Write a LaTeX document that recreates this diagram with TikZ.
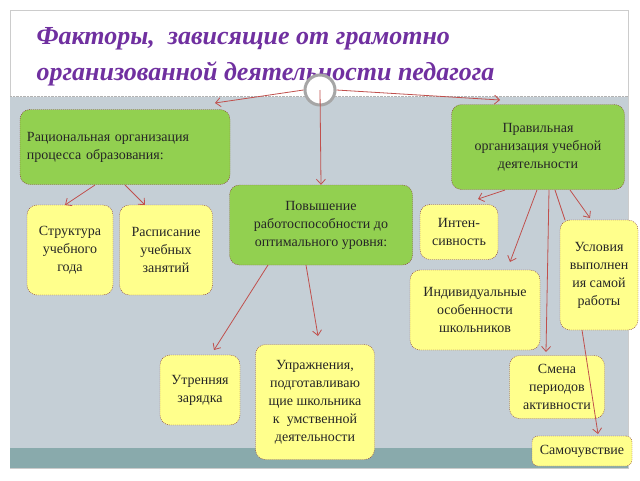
\documentclass[tikz,border=0pt]{standalone}
\usepackage{fontspec}
\setmainfont{Liberation Serif}
\usetikzlibrary{arrows.meta}
\definecolor{bg}{RGB}{197,207,214}
\definecolor{band}{RGB}{137,170,172}
\definecolor{gfill}{RGB}{146,208,80}
\definecolor{yfill}{RGB}{255,255,140}
\definecolor{edge}{RGB}{192,80,77}
\definecolor{ttl}{RGB}{112,48,160}
\begin{document}
\begin{tikzpicture}[x=1pt,y=-1pt,
  box/.style={draw=edge!70!black,dashed,dash pattern=on 1pt off 1pt,rounded corners=10pt,align=center,inner sep=1pt,font=\fontsize{14}{18}\selectfont,text=black!85},
  gbox/.style={box,fill=gfill},
  ybox/.style={box,fill=yfill},
  arr/.style={draw=edge,-{Straight Barb[length=5pt,width=9pt]},line width=0.8pt}]
\useasboundingbox (0,0) rectangle (640,480);
\fill[white] (0,0) rectangle (640,480);
\draw[gray!40] (10,10) rectangle (628,468);
\fill[bg] (10,97) rectangle (628,448);
\fill[band] (10,448) rectangle (628,468);
\draw[gray!60,densely dotted] (10,96) -- (628,96);
\node[anchor=west,text=ttl,font=\fontsize{26}{36}\selectfont\bfseries\itshape,align=left] (title) at (33,57) {Факторы,\ \ зависящие от грамотно\\организованной деятельности педагога};
\node[circle,draw=gray!70,line width=3pt,fill=white,minimum size=30pt] (c) at (320,90) {};
% nodes
\node[gbox,minimum width=210pt,minimum height=75pt,align=left,text width=196pt] (rat) at (125,147) {Рациональная организация\\процесса образования:};
\node[gbox,minimum width=173pt,minimum height=85pt] (prav) at (538,147) {Правильная\\организация учебной\\деятельности};
\node[gbox,minimum width=183pt,minimum height=80pt] (pov) at (321,225) {Повышение\\работоспособности до\\оптимального уровня:};
\node[ybox,minimum width=86pt,minimum height=90pt] (str) at (70,250) {Структура\\учебного\\года};
\node[ybox,minimum width=93pt,minimum height=90pt] (ras) at (166,250) {Расписание\\учебных\\занятий};
\node[ybox,minimum width=78pt,minimum height=55pt] (int) at (459,232) {Интен-\\сивность};
\node[ybox,minimum width=78pt,minimum height=110pt] (usl) at (599,275) {Условия\\выполнен\\ия самой\\работы};
\node[ybox,minimum width=130pt,minimum height=80pt] (ind) at (475,310) {Индивидуальные\\особенности\\школьников};
\node[ybox,minimum width=119pt,minimum height=115pt] (upr) at (315,402) {Упражнения,\\подготавливаю\\щие школьника\\к\ \ умственной\\деятельности};
\node[ybox,minimum width=80pt,minimum height=70pt] (utr) at (200,390) {Утренняя\\зарядка};
\node[ybox,minimum width=95pt,minimum height=63pt] (sm) at (557,387) {Смена\\периодов\\активности};
\node[ybox,minimum width=100pt,minimum height=30pt,rounded corners=6pt] (sam) at (582,451) {Самочувствие};
% connectors
\coordinate (r1) at (95,185);
\coordinate (r2) at (125,185);
\coordinate (q1) at (268,265);
\coordinate (q2) at (306,265);
\coordinate (p1) at (505,190);
\coordinate (p2) at (537,190);
\coordinate (p3) at (549,190);
\coordinate (p4) at (555,190);
\coordinate (p5) at (570,190);
\coordinate (u1) at (582,330);
\draw[arr] (c.west) -- (215,103);
\draw[arr] (c.east) -- (500,100);
\draw[arr] (c.center) -- (pov.north);
\draw[arr] (r1) -- (65,205);
\draw[arr] (r2) -- (145,205);
\draw[arr] (q1) -- (214,350);
\draw[arr] (q2) -- (318,336);
\draw[arr] (p1) -- (478,199);
\draw[arr] (p2) -- (510,262);
\draw[arr] (p3) -- (546,352);
\draw[edge,line width=0.8pt] (p4) -- (565,220);
\draw[arr] (p5) -- (590,218);
\draw[arr] (u1) -- (598,434);
\end{tikzpicture}
\end{document}
